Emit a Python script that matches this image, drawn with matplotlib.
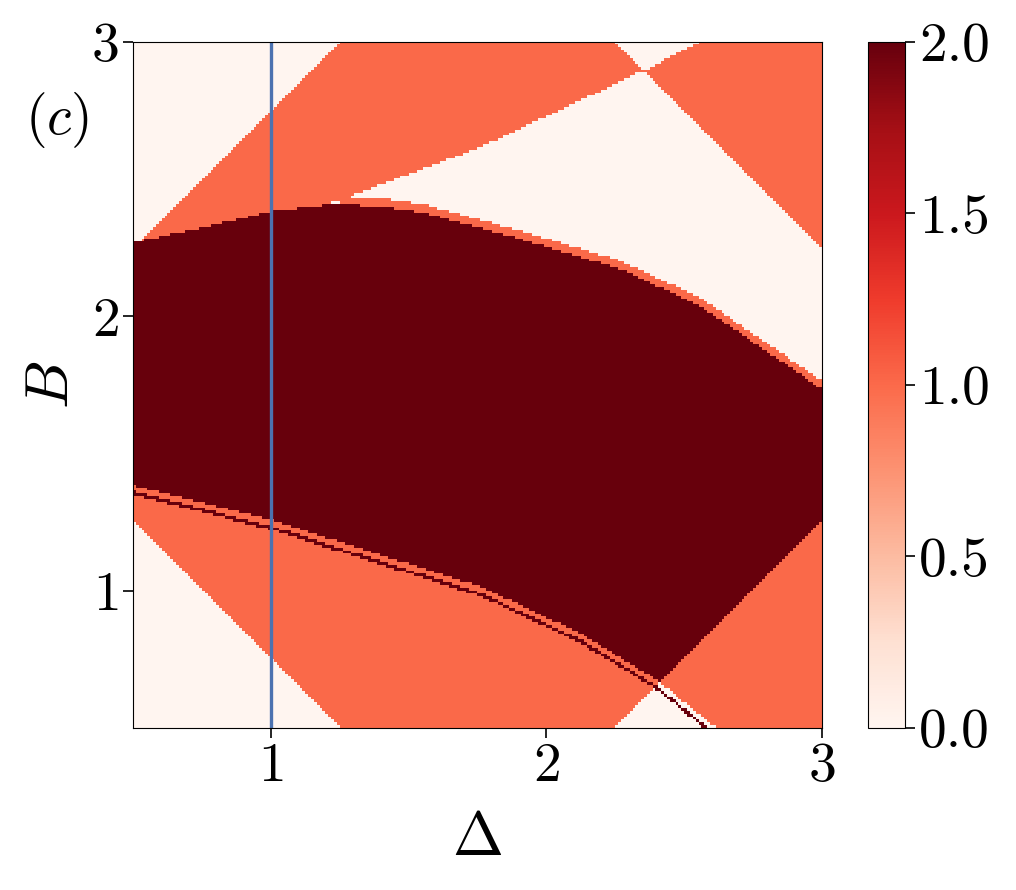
import matplotlib
matplotlib.use('Agg')
import matplotlib.pyplot as plt
import numpy as np

plt.rcParams['mathtext.fontset'] = 'cm'
plt.rcParams['font.family'] = 'serif'
plt.rcParams['font.serif'] = ['cmr10']
plt.rcParams['axes.formatter.use_mathtext'] = True

# Axis ranges
delta_lim = [0.5, 3.0]
b_lim = [0.5, 3.0]
n_grid = 240

# Boundary curves (Delta, B)
# lower edge of the upper orange wedge
c1_delta = [0.5, 1.224, 1.765, 2.343, 2.56, 3.0]
c1_b = [2.10, 2.416, 2.619, 2.891, 3.0, 3.23]
# top edge of the dark phase
c3_delta = [0.5, 0.755, 1.0, 1.224, 1.404, 1.549, 1.910, 2.271, 2.560, 3.0]
c3_b = [2.27, 2.325, 2.383, 2.408, 2.40, 2.379, 2.281, 2.172, 2.038, 1.737]
# bottom edge of the dark phase
c2_delta = [0.5, 1.0, 1.765, 2.126, 2.404, 2.60, 3.0]
c2_b = [1.381, 1.254, 1.01, 0.84, 0.67, 0.51, 0.25]

# straight diagonal boundaries: B - Delta and B + Delta
v_upper = 1.75
v_lower = -1.75
u_lower = 1.75
u_upper = 5.25

fringe_width = 0.03
cut_delta = 1.0

# Build phase map
d = np.linspace(delta_lim[0], delta_lim[1], n_grid)
b = np.linspace(b_lim[0], b_lim[1], n_grid)
D, Bg = np.meshgrid(d, b)
c1 = np.interp(D, c1_delta, c1_b)
c2 = np.interp(D, c2_delta, c2_b)
c3 = np.interp(D, c3_delta, c3_b)
u = Bg + D
v = Bg - D

z = np.zeros_like(D)
top = Bg >= c3
checker = ((Bg > c1) ^ (u > u_upper)) & (v < v_upper)
z[top & checker] = 1
# ragged edge above the dark phase
z[top & (Bg < c3 + fringe_width) & (D > 1.25) & (Bg < c1)] = 1
mid = (Bg < c3) & (Bg >= c2)
z[mid & (v >= v_lower)] = 2
z[mid & (v < v_lower)] = 1
low = Bg < c2
z[low & (u > u_lower) & (v > v_lower)] = 1
# thin dark stripe just below the dark phase
z[low & (Bg > c2 - 0.035) & (Bg < c2 - 0.022) & (D < 2.6)] = 2

fig = plt.figure(figsize=(10.16, 8.90), dpi=100)
ax = fig.add_axes([0.1309, 0.182, 0.6781, 0.771])
im = ax.imshow(z, origin='lower', extent=[delta_lim[0], delta_lim[1], b_lim[0], b_lim[1]],
               cmap='Reds', vmin=0, vmax=2, aspect='auto', interpolation='nearest')
ax.axvline(cut_delta, color='#4c72b0', linewidth=2.4)

ax.set_xlim(delta_lim)
ax.set_ylim(b_lim)
ax.set_xticks([1, 2, 3])
ax.set_yticks([1, 2, 3])
ax.tick_params(labelsize=40, length=7, width=1.2)
ax.set_xlabel(r'$\Delta$', fontsize=44, labelpad=14)
ax.set_ylabel(r'$B$', fontsize=44, labelpad=8)

cax = fig.add_axes([0.854, 0.182, 0.0364, 0.771])
cb = fig.colorbar(im, cax=cax, ticks=[0, 0.5, 1.0, 1.5, 2.0])
cb.ax.set_yticklabels(['0.0', '0.5', '1.0', '1.5', '2.0'])
cb.ax.tick_params(labelsize=40, length=7, width=1.2)

fig.text(0.056, 0.865, r'$(c)$', fontsize=40, ha='center', va='center')

plt.savefig('out.png', dpi=100)
plt.close()
